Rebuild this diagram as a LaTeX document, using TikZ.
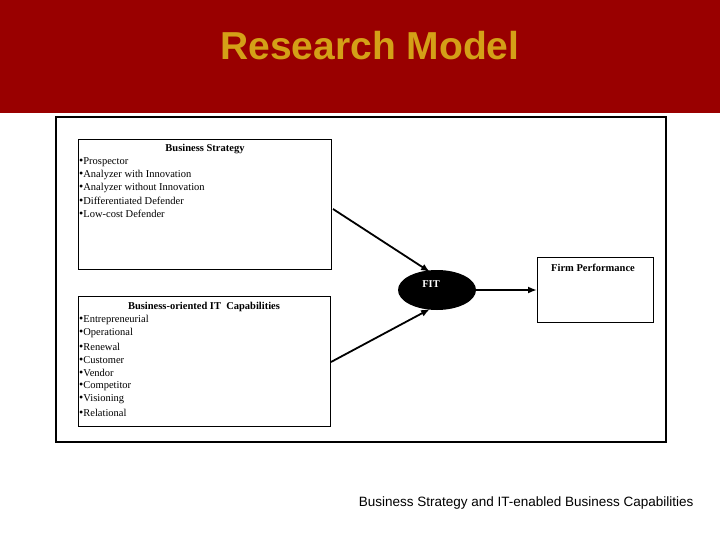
\documentclass[tikz,border=0pt]{standalone}
\usepackage{fontspec}
\usetikzlibrary{shapes.geometric,arrows.meta}
\setmainfont{Liberation Serif}
\newfontfamily\arial{Liberation Sans}
\definecolor{barred}{HTML}{990000}
\definecolor{gold}{HTML}{D4A017}
\begin{document}
\begin{tikzpicture}[x=1pt,y=-1pt,
  box/.style={draw,line width=0.8pt},
  itm/.style={anchor=west,inner sep=0pt,font=\fontsize{10.5}{12}\selectfont},
  hd/.style={inner sep=0pt,font=\fontsize{10.5}{12}\selectfont\bfseries},
  arr/.style={-{Latex[length=9pt,width=7pt]},line width=1.8pt}]
\useasboundingbox (0,0) rectangle (720,540);
\fill[barred] (0,0) rectangle (720,113);
\node[text=gold,font=\arial\bfseries\fontsize{39}{44}\selectfont] (title) at (370,46) {Research Model};
\draw[line width=2.5pt] (56,117) rectangle (666,442);
\node[box,minimum width=253,minimum height=130,anchor=north west] (bs) at (78,139) {};
\node[hd] (bsh) at (205,149) {Business Strategy};
\foreach \t [count=\i] in {Prospector,Analyzer with Innovation,Analyzer without Innovation,Differentiated Defender,Low-cost Defender}
  \node[itm] (bs\i) at (79,149+13*\i) {{\large\textbullet}\t};
\node[box,minimum width=252,minimum height=130,anchor=north west] (it) at (78,296) {};
\node[hd] (ith) at (204,307) {Business-oriented IT\ \ Capabilities};
\foreach \t [count=\i] in {Entrepreneurial,Operational,Renewal,Customer,Vendor,Competitor,Visioning,Relational}
  \node[itm] (it\i) at (79,307+13.2*\i) {{\large\textbullet}\t};
\node[ellipse,fill=black,minimum width=78,minimum height=40,inner sep=0pt] (fit) at (437,290) {};
\node[text=white,hd] (fitl) at (431,284) {FIT};
\node[box,minimum width=116,minimum height=65,anchor=north west] (fp) at (537,257) {};
\node[hd] (fpl) at (593,268) {Firm Performance};
\coordinate (a1) at (333,209); \coordinate (a1e) at (430,272);
\coordinate (a2) at (331,362); \coordinate (a2e) at (430,309);
\draw[arr] (a1) -- (a1e);
\draw[arr] (a2) -- (a2e);
\draw[arr] (fit.east) -- (fp.west |- fit.east);
\node[anchor=east,font=\arial\fontsize{13.5}{16}\selectfont] (cap) at (697,503) {Business Strategy and IT-enabled Business Capabilities};
\end{tikzpicture}
\end{document}
